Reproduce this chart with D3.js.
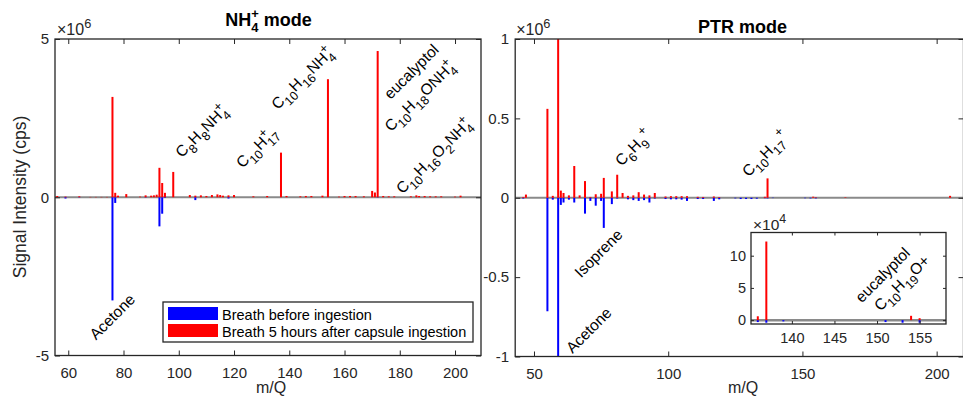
<!DOCTYPE html>
<html><head><meta charset="utf-8">
<script src="https://cdn.jsdelivr.net/npm/d3@7"></script>
<style>
body{margin:0;background:#fff}
text{font-family:"Liberation Sans",Arial,Helvetica,sans-serif}
</style>
</head><body>
<svg id="c" width="963" height="396"></svg>
<script>
// ---------------- DATA ----------------
// NH4+ mode (values in units of 1e6 cps)
const nh4Mz =     [56,59,64,68,70,72,74, 76,77,78,81, 86,88,90,91,92, 93,94,95,98, 104,106,108,110,112, 114,115,116,118,120, 127,132,137,139, 144,146,148,152,154, 158,160,162,164,167, 170,171,172,174,176,178, 184,186,187,189,191,193,195, 200,202];
const nh4After =  [0.04,0.02,0.03,0.01,0.01,0.01,0.01, 3.17,0.14,0.05,0.10, 0.02,0.06,0.05,0.06,0.08, 0.93,0.45,0.14,0.80, 0.07,0.05,0.06,0.04,0.07, 0.09,0.07,0.05,0.06,0.07, 0.03,0.04,1.41,0.04, 0.03,0.04,0.04,0.05,3.73, 0.02,0.04,0.04,0.04,0.03, 0.20,0.15,4.62,0.04,0.03,0.03, 0.03,0.06,0.04,0.04,0.03,0.03,0.03, 0.02,0.05];
const nh4Before = [0,-0.04,-0.01,0,0,0,0, -3.26,-0.18,0,0, 0,-0.01,0,0,0, -0.92,-0.52,-0.02,0, 0,-0.09,0,0,0, 0,0,0,-0.04,0, 0,0,0,0, 0,0,0,0,0, 0,0,0,0,0, 0,0,-0.01,0,0,0, 0,0,0,0,0,0,0, 0,0];

// PTR mode (values in units of 1e6 cps)
const ptrMz =     [46,47,55,57,59, 60,61,63,65,67, 69,71,73,75,76, 79,81,83,85,87, 89,91,93,95,99, 101,103,105,107,111, 113,117,119,125,127, 129,131,133,136,137, 139,151,153,154,155, 166,205];
const ptrAfter =  [0.005,0.02,0.56,0.012,1.05, 0.045,0.03,0.015,0.20,0.015, 0.105,0.005,0.022,0.025,0.125, 0.04,0.145,0.03,0.012,0.015, 0.035,0.02,0.015,0.03,0.008, 0.01,0.01,0.01,0.01,0.006, 0.005,0.008,0.004,0,0, 0,0,0,0.006,0.122, 0,0,0,0.0067,0.003, 0.003,0.012];
const ptrBefore = [-0.005,0,-0.715,-0.012,-1.05, -0.045,-0.03,-0.012,-0.03,0, -0.10,-0.02,-0.05,-0.02,-0.19, -0.04,-0.005,0,-0.01,-0.015, -0.02,-0.015,-0.03,-0.005,-0.008, -0.01,-0.01,-0.012,-0.02,-0.008, -0.008,-0.02,-0.01,-0.004,-0.008, -0.008,-0.008,-0.006,-0.003,-0.004, -0.002,-0.003,-0.004,0,-0.004, 0,0];

// ticks
const nh4XTicks = [60,80,100,120,140,160,180,200];
const nh4YTicks = [-5,0,5];
const ptrXTicks = [50,100,150,200];
const ptrYTicks = [-1,-0.5,0,0.5,1];
const insetXTicks = [140,145,150,155];
const insetYTicks = [0,5,10];

// annotations (tex-like strings, anchored in data coordinates)
const nh4Notes = [
  {tex:"Acetone", mz:70.0, v:-4.53, stack:true},
  {tex:"C_8H_8NH_4^+", mz:101.1, v:1.23, stack:true},
  {tex:"C_{10}H_{17}^+", mz:123.1, v:0.9, stack:true},
  {tex:"C_{10}H_{16}NH_4^+", mz:135.8, v:2.75, stack:true},
  {tex:"eucalyptol", mz:176.6, v:3.07, stack:true},
  {tex:"C_{10}H_{18}ONH_4^+", mz:176.8, v:2.05, stack:true},
  {tex:"C_{10}H_{16}O_2NH_4^+", mz:181.0, v:0.085, stack:true}
];
const ptrNotes = [
  {tex:"C_6H_9^+", mz:82.6, v:0.196, stack:false},
  {tex:"C_{10}H_{17}^+", mz:129.9, v:0.128, stack:false},
  {tex:"Isoprene", mz:67.5, v:-0.508, stack:false},
  {tex:"Acetone", mz:64.3, v:-0.985, stack:false}
];
const insetNotes = [
  {tex:"eucalyptol", mz:148.2, v:2.6, stack:false},
  {tex:"C_{10}H_{19}O+", mz:150.4, v:1.3, stack:false}
];
const legendLabels = ["Breath before ingestion","Breath 5 hours after capsule ingestion"];

// ---------------- HELPERS ----------------
const AX = "#262626", RED = "#ff0000", BLUE = "#0000ff", BASE = "#8a8a8a";
const svg = d3.select("#c");

function parseTex(s){
  const toks=[]; let i=0, buf="";
  while(i<s.length){
    const ch=s[i];
    if(ch==="_"||ch==="^"){
      if(buf){toks.push({m:"n",s:buf});buf="";}
      let arg;
      if(s[i+1]==="{"){const j=s.indexOf("}",i+2);arg=s.slice(i+2,j);i=j+1;}
      else {arg=s[i+1];i+=2;}
      toks.push({m:ch==="_"?"sub":"sup",s:arg});
    } else {buf+=ch;i++;}
  }
  if(buf) toks.push({m:"n",s:buf});
  return toks;
}
function addRich(t, tex, fs, stack, ratio){
  ratio = ratio || 0.72;
  const toks=parseTex(tex); let cur=0, prev=null;
  toks.forEach(k=>{
    const target = k.m==="sub" ? fs*0.36 : k.m==="sup" ? -fs*0.45 : 0;
    const size = k.m==="n" ? fs : fs*ratio;
    const ts = t.append("tspan").attr("font-size",size).attr("dy",target-cur).text(k.s);
    if(stack && k.m==="sup" && prev && prev.m==="sub"){
      ts.attr("dx", -prev.node.getComputedTextLength());
    }
    cur=target; prev={m:k.m,node:ts.node()};
  });
}
function note(g, x, y, n, fs){
  const t = g.append("text").attr("transform",`translate(${x},${y}) rotate(-45)`)
    .attr("fill","#000").attr("font-size",fs);
  addRich(t, n.tex, fs, n.stack, 0.8);
}

let clipId=0;
function drawPanel(o){
  const g = svg.append("g");
  const [x0,x1]=o.x.range(), [y0,y1]=o.y.range(); // y0 bottom, y1 top
  const id="clip"+(clipId++);
  g.append("clipPath").attr("id",id).append("rect")
    .attr("x",x0).attr("y",y1).attr("width",x1-x0).attr("height",y0-y1);
  if(o.bg) g.append("rect").attr("x",x0).attr("y",y1).attr("width",x1-x0).attr("height",y0-y1).attr("fill","#fff");
  const pg = g.append("g").attr("clip-path",`url(#${id})`);
  pg.append("line").attr("x1",x0).attr("x2",x1).attr("y1",o.y(0)).attr("y2",o.y(0))
    .attr("stroke",BASE).attr("stroke-width",o.baseW||1.8);
  const idx = d3.range(o.mz.length);
  const bw=o.bw;
  pg.selectAll(null).data(idx.filter(i=>o.before[i]!==0)).join("rect")
    .attr("x",i=>o.x(o.mz[i])-bw/2).attr("width",bw)
    .attr("y",o.y(0)).attr("height",i=>o.y(o.before[i]*o.k)-o.y(0)).attr("fill",BLUE);
  pg.selectAll(null).data(idx.filter(i=>o.after[i]!==0)).join("rect")
    .attr("x",i=>o.x(o.mz[i])-bw/2).attr("width",bw)
    .attr("y",i=>o.y(o.after[i]*o.k)).attr("height",i=>o.y(0)-o.y(o.after[i]*o.k)).attr("fill",RED);

  const fmt = d=>String(d);
  const ts=o.tick;
  const ax = (a)=>{a.selectAll("path").remove(); a.selectAll("line").attr("stroke",AX).attr("stroke-width",1);
    a.selectAll("text").attr("fill",AX).attr("font-size",o.fs).attr("font-family","Liberation Sans, Arial, sans-serif");};
  g.append("g").attr("transform",`translate(0,${y0})`)
    .call(d3.axisBottom(o.x).tickValues(o.xt).tickSize(-ts).tickPadding(o.xpad).tickFormat(fmt)).call(ax);
  g.append("g").attr("transform",`translate(0,${y1})`)
    .call(d3.axisTop(o.x).tickValues(o.xt).tickSize(-ts).tickFormat("")).call(ax);
  g.append("g").attr("transform",`translate(${x0},0)`)
    .call(d3.axisLeft(o.y).tickValues(o.yt).tickSize(-ts).tickPadding(o.ypad).tickFormat(fmt)).call(ax);
  g.append("g").attr("transform",`translate(${x1},0)`)
    .call(d3.axisRight(o.y).tickValues(o.yt).tickSize(-ts).tickFormat("")).call(ax);
  g.append("rect").attr("x",x0).attr("y",y1).attr("width",x1-x0).attr("height",y0-y1)
    .attr("fill","none").attr("stroke",AX).attr("stroke-width",1.3);
  // exponent
  const e = g.append("text").attr("x",x0+o.expDx).attr("y",y1-o.expDy).attr("fill",AX).attr("font-size",o.efs);
  addRich(e, "\u00d710^{"+o.exp+"}", o.efs, false, 0.8);
  (o.notes||[]).forEach(n=>note(g, o.x(n.mz), o.y(n.v), n, o.nfs));
  return g;
}

// ---------------- PANELS ----------------
const nh4X = d3.scaleLinear().domain([55.2,209.4]).range([55,481]);
const nh4Y = d3.scaleLinear().domain([-5,5]).range([355.5,39]);
drawPanel({x:nh4X,y:nh4Y,mz:nh4Mz,after:nh4After,before:nh4Before,k:1,bw:2,
  xt:nh4XTicks,yt:nh4YTicks,tick:5,xpad:11.5,ypad:6,fs:15,efs:16,exp:6,expDx:2,expDy:4,
  notes:nh4Notes,nfs:15.5});

const ptrX = d3.scaleLinear().domain([43,210]).range([515.2,963.5]);
const ptrY = d3.scaleLinear().domain([-1,1]).range([356.5,39]);
drawPanel({x:ptrX,y:ptrY,mz:ptrMz,after:ptrAfter,before:ptrBefore,k:1,bw:2,
  xt:ptrXTicks,yt:ptrYTicks,tick:5,xpad:11.5,ypad:6,fs:15,efs:16,exp:6,expDx:1,expDy:4,
  notes:ptrNotes,nfs:15.5});

// inset (values in units of 1e4 cps -> factor 100 from 1e6 units)
const inX = d3.scaleLinear().domain([135.2,158.1]).range([751,946]);
const inY = d3.scaleLinear().domain([-0.6,13.6]).range([324,232.5]);
drawPanel({x:inX,y:inY,mz:ptrMz,after:ptrAfter,before:ptrBefore,k:100,bw:2,bg:true,baseW:2.5,
  xt:insetXTicks,yt:insetYTicks,tick:3,xpad:9,ypad:5,fs:14.5,efs:15.5,exp:4,expDx:2,expDy:3,
  notes:insetNotes,nfs:15.5});

// ---------------- TITLES & LABELS ----------------
const t1 = svg.append("text").attr("x",268.5).attr("y",26).attr("text-anchor","middle")
  .attr("font-weight","bold").attr("font-size",18).attr("fill","#000");
addRich(t1,"NH_4^+ mode",18,true);
svg.append("text").attr("x",742.5).attr("y",32.5).attr("text-anchor","middle")
  .attr("font-weight","bold").attr("font-size",18).attr("fill","#000").text("PTR mode");

svg.append("text").attr("transform","translate(25.5,197) rotate(-90)").attr("text-anchor","middle")
  .attr("font-size",17.5).attr("fill",AX).text("Signal Intensity (cps)");
svg.append("text").attr("x",271).attr("y",393).attr("text-anchor","middle")
  .attr("font-size",16).attr("fill",AX).text("m/Q");
svg.append("text").attr("x",743).attr("y",393).attr("text-anchor","middle")
  .attr("font-size",16).attr("fill",AX).text("m/Q");

// ---------------- LEGEND ----------------
const lg = svg.append("g");
lg.append("rect").attr("x",163).attr("y",302).attr("width",310).attr("height",40)
  .attr("fill","#fff").attr("stroke",AX).attr("stroke-width",1.3);
[BLUE,RED].forEach((c,i)=>{
  lg.append("rect").attr("x",168).attr("y",307+i*17).attr("width",50).attr("height",13).attr("fill",c);
  lg.append("text").attr("x",222).attr("y",319.5+i*17).attr("font-size",14.5).attr("fill","#000").text(legendLabels[i]);
});
</script>
</body></html>
